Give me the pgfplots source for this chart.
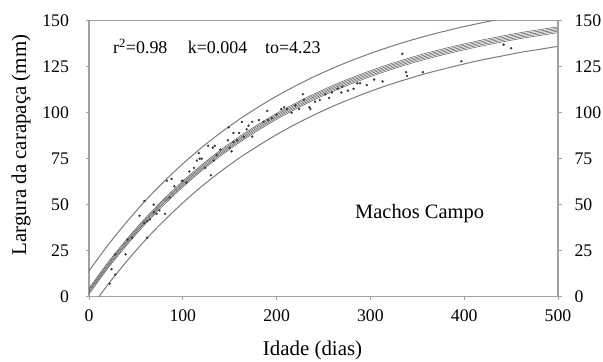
\documentclass[border=0pt]{standalone}
\usepackage{pgfplots}
\pgfplotsset{compat=1.18}
\usepackage{pgfplotstable}
\usepackage{fontspec}
\setmainfont{Liberation Serif}

\definecolor{axgray}{HTML}{A0A0A0}
\definecolor{curvegray}{HTML}{7A7A7A}
\definecolor{bandgray}{HTML}{666666}
\definecolor{dotgray}{HTML}{383838}

\pgfplotstableread{
t lotwo loone c hione hitwo up low
0 1.4 2.2 3.0 3.8 4.6 14.0 -7.5
20 15.3 16.1 16.9 17.7 18.5 27.9 6.5
40 27.9 28.7 29.5 30.3 31.1 40.5 19.1
60 39.5 40.3 41.1 41.9 42.7 52.1 30.8
80 50.0 50.8 51.6 52.4 53.2 62.6 41.3
100 59.6 60.4 61.2 62.0 62.8 72.2 51.0
120 68.4 69.2 70.0 70.8 71.6 81.0 59.9
140 76.4 77.2 78.0 78.8 79.6 89.0 67.9
160 83.7 84.5 85.3 86.1 86.9 96.3 75.3
180 90.3 91.1 91.9 92.7 93.5 102.9 81.9
200 96.4 97.2 98.0 98.8 99.6 109.0 88.1
220 101.9 102.7 103.5 104.3 105.1 114.5 93.7
240 107.0 107.8 108.6 109.4 110.2 119.6 98.8
260 111.6 112.4 113.2 114.0 114.8 124.2 103.5
280 115.8 116.6 117.4 118.2 119.0 128.4 107.7
300 119.6 120.4 121.2 122.0 122.8 132.2 111.6
320 123.1 123.9 124.7 125.5 126.3 135.7 115.2
340 126.3 127.1 127.9 128.7 129.5 138.9 118.4
360 129.2 130.0 130.8 131.6 132.4 141.8 121.4
380 131.8 132.6 133.4 134.2 135.0 144.4 124.0
400 134.2 135.0 135.8 136.6 137.4 146.8 126.5
420 136.4 137.2 138.0 138.8 139.6 149.0 128.8
440 138.4 139.2 140.0 140.8 141.6 151.0 130.8
460 140.3 141.1 141.9 142.7 143.5 152.9 132.8
480 141.9 142.7 143.5 144.3 145.1 154.5 134.4
500 143.5 144.3 145.1 145.9 146.7 156.1 136.1
}\curves

\pgfplotstableread{
t L
22 7
24 15
28 12
28 23
39 23
41 31
46 32
54 44
59 52
59 40
62 41
62 32
65 42
69 50
69 46
72 45
75 47
81 45
83 63
86 54
88 64
91 60
99 63
100 63
104 62
107 68
112 70
115 74
117 78
118 75
120 75
124 70
127 82
130 66
132 81
133 74
134 82
136 77
140 80
148 85
149 92
150 81
152 79
154 84
154 89
158 85
160 89
163 95
165 87
168 91
170 93
174 95
174 87
181 96
186 95
190 101
191 96
195 97
200 99
205 102
208 103
211 102
216 100
220 104
224 102
228 110
229 107
235 103
236 102
241 106
246 107
252 110
256 108
259 111
265 113
269 111
270 114
276 112
282 113
286 116
289 116
296 115
304 118
313 117
334 132
338 122
339 120
356 122
397 128
442 137
450 135
}\pts

\begin{document}
\begin{tikzpicture}[x=1bp,y=1bp]
\path[use as bounding box] (0,0) rectangle (603,361);
\begin{axis}[
  at={(89bp,64.3bp)}, anchor=south west,
  scale only axis, width=469bp, height=276bp,
  xmin=0, xmax=500, ymin=0, ymax=150,
  xtick={0,100,200,300,400,500},
  ytick={0,25,50,75,100,125,150},
  axis line style={axgray, line width=1.2bp},
  tick style={axgray, line width=0.8bp},
  tick align=outside, major tick length=3.5bp,
  xtick pos=bottom, ytick pos=both, yticklabel pos=left,
  ticklabel style={font=\fontsize{17.8}{18}\selectfont},
  /pgf/number format/assume math mode=true,
  xticklabel style={anchor=base, yshift=-21bp},
  yticklabel style={anchor=east, xshift=-13bp},
  clip=true,
]
\addplot[curvegray, line width=1bp, smooth] table[x=t, y=up] {\curves};
\addplot[curvegray, line width=1bp, smooth] table[x=t, y=low] {\curves};
\addplot[bandgray, line width=0.6bp, smooth] table[x=t, y=lotwo] {\curves};
\addplot[bandgray, line width=0.6bp, smooth] table[x=t, y=loone] {\curves};
\addplot[bandgray, line width=0.6bp, smooth] table[x=t, y=c] {\curves};
\addplot[bandgray, line width=0.6bp, smooth] table[x=t, y=hione] {\curves};
\addplot[bandgray, line width=0.6bp, smooth] table[x=t, y=hitwo] {\curves};
\addplot[only marks, mark=*, mark size=1bp, dotgray, mark options={draw=none, fill=dotgray}] table[x=t, y=L] {\pts};
\node[anchor=base west, inner sep=0pt, font=\fontsize{18}{18}\selectfont] at (axis cs:25.6,132.3) {r\textsuperscript{2}=0.98};
\node[anchor=base west, inner sep=0pt, font=\fontsize{18}{18}\selectfont] at (axis cs:105.2,132.3) {k=0.004};
\node[anchor=base west, inner sep=0pt, font=\fontsize{18}{18}\selectfont] at (axis cs:187.6,132.3) {to=4.23};
\node[anchor=base west, inner sep=0pt, font=\fontsize{20.5}{21}\selectfont] at (axis cs:283.6,42.6) {Machos Campo};
\end{axis}
\begin{axis}[
  at={(89bp,64.3bp)}, anchor=south west,
  scale only axis, width=469bp, height=276bp,
  xmin=0, xmax=500, ymin=0, ymax=150,
  hide x axis, axis y line*=right,
  ytick={0,25,50,75,100,125,150},
  axis line style={axgray, line width=1.2bp},
  major tick length=0pt,
  ticklabel style={font=\fontsize{17.8}{18}\selectfont},
  /pgf/number format/assume math mode=true,
  yticklabel style={anchor=west, xshift=13bp},
]
\addplot[draw=none] coordinates {(0,0)};
\end{axis}
\node[rotate=90, anchor=base, inner sep=0pt, font=\fontsize{21}{21}\selectfont] at (26,216) {Largura da carapaça (mm)};
\node[anchor=base, inner sep=0pt, font=\fontsize{21}{21}\selectfont] at (312.5,6) {Idade (dias)};
\end{tikzpicture}
\end{document}
